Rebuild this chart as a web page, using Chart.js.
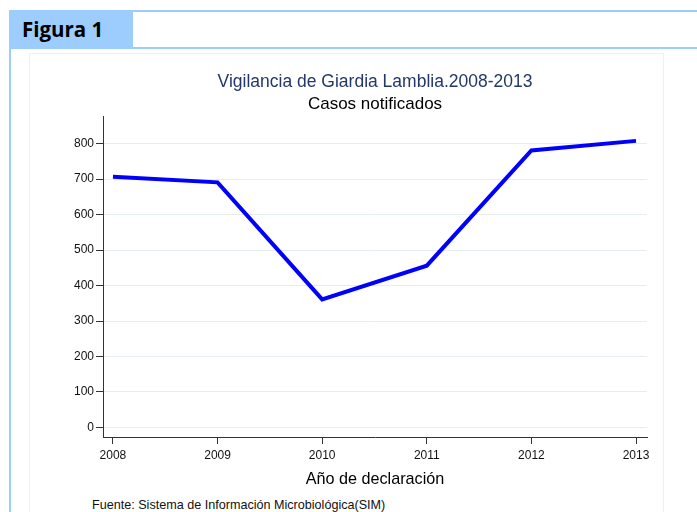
<!DOCTYPE html>
<html>
<head>
<meta charset="utf-8">
<script src="https://cdn.jsdelivr.net/npm/chart.js@4"></script>
<style>
  body { margin: 0; background: #fff; }
  #wrap { position: relative; width: 697px; height: 512px; overflow: hidden; background: #fff; }
  .blue { position: absolute; background: #9dcdfd; }
  #head { left: 9px; top: 10px; width: 124px; height: 38px; }
  #head span { position: absolute; left: 13px; top: 5px; font: bold 20.5px "Open Sans", sans-serif; color: #000; }
  #panel { position: absolute; left: 29px; top: 53px; width: 633px; height: 470px;
           border: 1px solid #eef1f1; border-bottom: none; }
  #src { position: absolute; left: 92px; top: 498px; font: 12.6px "Liberation Sans", Arial, sans-serif; color: #111; }
  canvas { position: absolute; left: 0; top: 0; }
</style>
</head>
<body>
<div id="wrap">
  <div class="blue" style="left:9px;top:10px;width:688px;height:2px"></div>
  <div class="blue" style="left:9px;top:47px;width:688px;height:2px"></div>
  <div class="blue" style="left:9px;top:10px;width:2px;height:502px"></div>
  <div class="blue" id="head"><span>Figura 1</span></div>
  <div id="panel"></div>
  <div id="src">Fuente: Sistema de Información Microbiológica(SIM)</div>
  <canvas id="giardiaChart" width="697" height="512"></canvas>
</div>
<script>
var years = [2008, 2009, 2010, 2011, 2012, 2013];
var casos = [707, 691, 361, 456, 781, 808];
var yTicks = [0, 100, 200, 300, 400, 500, 600, 700, 800];

document.addEventListener('DOMContentLoaded', function () {
    var ctx = document.getElementById('giardiaChart').getContext('2d');
    var font = '"Liberation Sans", Arial, sans-serif';
    new Chart(ctx, {
        type: 'line',
        data: {
            datasets: [{
                label: 'Casos notificados',
                data: years.map(function (y, i) { return { x: y, y: casos[i] }; }),
                borderColor: '#0000ff',
                borderWidth: 4,
                pointRadius: 0,
                fill: false,
                tension: 0
            }]
        },
        options: {
            responsive: false,
            animation: false,
            layout: { padding: { top: 60, left: 0, right: 50, bottom: 0 } },
            plugins: {
                legend: { display: false },
                tooltip: { enabled: false },
                title: {
                    display: true,
                    fullSize: false,
                    text: 'Vigilancia de Giardia Lamblia.2008-2013',
                    color: '#22376a',
                    font: { family: font, size: 17.5, weight: 'normal' },
                    padding: { top: 11.5, bottom: 0 }
                },
                subtitle: {
                    display: true,
                    fullSize: false,
                    text: 'Casos notificados',
                    color: '#000',
                    font: { family: font, size: 17 },
                    padding: { top: 1.4, bottom: 2.1 }
                }
            },
            scales: {
                x: {
                    type: 'linear',
                    min: 2007.905,
                    max: 2013.105,
                    afterBuildTicks: function (scale) {
                        scale.ticks = years.map(function (v) { return { value: v }; });
                    },
                    afterFit: function (scale) { scale.height = 75; },
                    grid: { drawOnChartArea: false, drawTicks: true, tickLength: 7, tickColor: '#333' },
                    border: { display: true, color: '#333', width: 1 },
                    ticks: {
                        color: '#111',
                        padding: 4,
                        maxRotation: 0,
                        font: { family: font, size: 12 },
                        callback: function (v) { return String(v); }
                    },
                    title: {
                        display: true,
                        text: 'Año de declaración',
                        color: '#000',
                        font: { family: font, size: 16.2 },
                        padding: { top: 0, bottom: 23 }
                    }
                },
                y: {
                    min: -27,
                    max: 877,
                    afterBuildTicks: function (scale) {
                        scale.ticks = yTicks.map(function (v) { return { value: v }; });
                    },
                    afterFit: function (scale) { scale.width = 103; },
                    grid: { color: '#e6edf0', lineWidth: 1, drawTicks: true, tickLength: 7, tickColor: '#333' },
                    border: { display: true, color: '#333', width: 1 },
                    ticks: {
                        color: '#111',
                        padding: 2,
                        font: { family: font, size: 12 }
                    }
                }
            }
        }
    });
});
</script>
</body>
</html>
